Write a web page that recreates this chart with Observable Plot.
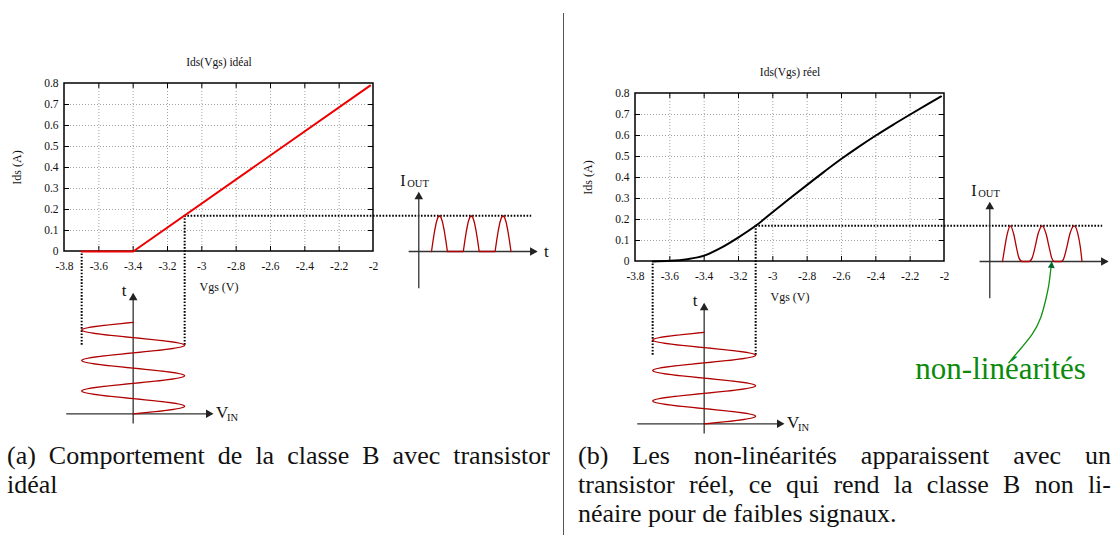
<!DOCTYPE html>
<html><head><meta charset="utf-8">
<script src="https://cdn.jsdelivr.net/npm/d3@7"></script>
<script src="https://cdn.jsdelivr.net/npm/@observablehq/plot@0.6"></script>
<style>
html,body{margin:0;padding:0;background:#fff;overflow:hidden;width:1113px;height:535px;}
#root{position:relative;width:1113px;height:535px;overflow:hidden;}
.panel{position:absolute;width:560px;height:440px;}
.panel svg{position:absolute;left:0;top:0;overflow:visible;background:transparent;}
.cap{position:absolute;font-size:26px;color:#111;}
.line{height:29px;line-height:29px;white-space:nowrap;}
.just{text-align:justify;text-align-last:justify;}
#sep{position:absolute;left:563px;top:13px;width:1px;height:522px;background:#555;}
</style></head><body><div id="root"><div id="sep"></div></div>
<script>
// ---------- data ----------
const vgsTicks = [-3.8,-3.6,-3.4,-3.2,-3,-2.8,-2.6,-2.4,-2.2,-2];
const idsTicks = [0,0.1,0.2,0.3,0.4,0.5,0.6,0.7,0.8];
const idealVgs = [-3.7,-3.4,-2.02];
const idealIds = [0,0,0.79];
const realVgs = [-3.7,-3.6,-3.5,-3.4,-3.3,-3.2,-3.1,-3.0,-2.9,-2.8,-2.7,-2.6,-2.5,-2.4,-2.3,-2.2,-2.1,-2.02];
const realIds = [0,0.003,0.011,0.028,0.066,0.115,0.17,0.236,0.301,0.365,0.428,0.489,0.546,0.6,0.651,0.7,0.748,0.786];
// input Vgs(t), t in periods (quarter-period samples)
const inTime = [0,0.25,0.5,0.75,1,1.25,1.5,1.75,2,2.25,2.5,2.75,3];
const inVgs  = [-3.4,-3.1,-3.4,-3.7,-3.4,-3.1,-3.4,-3.7,-3.4,-3.1,-3.4,-3.7,-3.4];
const peakIds = 0.17;
const peakTime = 2.25;
// output current, ideal transistor
const outIdealT = [0,0.05,0.1,0.15,0.2,0.25,0.3,0.35,0.4,0.45,0.5,
                   1,1.05,1.1,1.15,1.2,1.25,1.3,1.35,1.4,1.45,1.5,
                   2,2.05,2.1,2.15,2.2,2.25,2.3,2.35,2.4,2.45,2.5];
const outIdealI = [0,0.053,0.1,0.138,0.162,0.17,0.162,0.138,0.1,0.053,0,
                   0,0.053,0.1,0.138,0.162,0.17,0.162,0.138,0.1,0.053,0,
                   0,0.053,0.1,0.138,0.162,0.17,0.162,0.138,0.1,0.053,0];
// output current, real transistor
const outRealT = [0,0.07,0.15,0.25,0.35,0.44,0.52,0.62,0.83,0.93,1.02,1.12,1.25,1.37,1.47,1.55,1.63,1.85,1.93,2.02,2.12,2.25,2.37,2.45,2.5];
const outRealI = [0,0.066,0.132,0.17,0.132,0.066,0.016,0,0,0.016,0.066,0.132,0.17,0.132,0.066,0.016,0,0,0.016,0.066,0.132,0.17,0.132,0.066,0];
// annotation path (output-time, current units)
const noteT = [0.2,0.51,0.93,1.2,1.35,1.46,1.54];
const noteI = [-0.482,-0.426,-0.347,-0.268,-0.188,-0.108,-0.004];
const noteText = "non-linéarités";
const capA = ["(a) Comportement de la classe B avec transistor", "idéal"];
const capB = ["(b) Les non-linéarités apparaissent avec un", "transistor réel, ce qui rend la classe B non li-", "néaire pour de faibles signaux."];

// ---------- fonts ----------
function hasFont(f) {
  const c = document.createElement("canvas").getContext("2d");
  const s = "abcdefghijklmnopqrstuvwxyzABCDEFGHIJ0123456789";
  c.font = "40px monospace"; const w1 = c.measureText(s).width;
  c.font = `40px "${f}", monospace`; const w2 = c.measureText(s).width;
  return Math.abs(w1 - w2) > 0.5;
}
const serifName = ["Liberation Serif", "Times New Roman", "Tinos", "DejaVu Serif", "Noto Serif"].find(hasFont);
const FONT = serifName ? `"${serifName}", serif` : "serif";

// ---------- layout ----------
const W = 560, H = 440;
const X = {type:"linear", domain:[-3.8,-2], range:[64,373]};
const Y = {type:"linear", domain:[0,0.8], range:[251,83]};
const TIN = {type:"linear", domain:[0,3], range:[413.3,321.8]};
const TOUT = {type:"linear", domain:[0,1], range:[431,462.8]};
const xs = Plot.scale({x: X}), ys = Plot.scale({y: Y});
const tis = Plot.scale({y: TIN}), tos = Plot.scale({x: TOUT});
const tkY = ys.invert(251 - 5), tkX = xs.invert(64 + 5) - (-3.8);
const base = {width: W, height: H, margin: 0, style: {fontFamily: FONT, overflow: "visible", background: "transparent", color: "#111"}};
const dotted = {stroke: "#000", strokeWidth: 2, strokeDasharray: "1.6,1.6"};
const axisSt = {stroke: "#333", strokeWidth: 1.3};
const head = {symbol: "triangle", r: 3.2, fill: "#222", stroke: "none"};
const SIG = "#b00000";

const root = document.getElementById("root");

function panel(left, top, cfg) {
  const div = document.createElement("div");
  div.className = "panel"; div.style.left = left + "px"; div.style.top = top + "px";
  root.appendChild(div);
  const curve = cfg.v.map((v, i) => ({v, i: cfg.i[i]}));
  const gx = vgsTicks.slice(1, -1), gy = idsTicks.slice(1, -1);
  const txt = {fill: "#111", fontFamily: FONT};

  const main = Plot.plot({...base, x: {...X, axis: null}, y: {...Y, axis: null}, marks: [
    Plot.ruleX(gx, {x: d => d, y1: 0, y2: 0.8, stroke: "#999", strokeDasharray: "1,2", strokeWidth: 0.9}),
    Plot.ruleY(gy, {y: d => d, x1: -3.8, x2: -2, stroke: "#999", strokeDasharray: "1,2", strokeWidth: 0.9}),
    Plot.ruleX(gx, {x: d => d, y1: 0, y2: tkY, stroke: "#000"}),
    Plot.ruleX(gx, {x: d => d, y1: 0.8 - tkY, y2: 0.8, stroke: "#000"}),
    Plot.ruleY(gy, {y: d => d, x1: -3.8, x2: -3.8 + tkX, stroke: "#000"}),
    Plot.ruleY(gy, {y: d => d, x1: -2 - tkX, x2: -2, stroke: "#000"}),
    Plot.rect([0], {x1: -3.8, x2: -2, y1: 0, y2: 0.8, fill: "none", stroke: "#000", strokeWidth: 1.5}),
    Plot.line(curve, {x: "v", y: "i", stroke: cfg.color, strokeWidth: 2, curve: cfg.curve}),
    Plot.text(vgsTicks, {x: d => d, y: 0, dy: 15, text: d => String(d), fontSize: 11.5, ...txt}),
    Plot.text(idsTicks, {x: -3.8, y: d => d, dx: -6, textAnchor: "end", text: d => String(d), fontSize: 11.5, ...txt}),
    Plot.text([cfg.title], {x: -2.9, y: 0.8, dy: -21, text: d => d, fontSize: 11.5, ...txt}),
    Plot.text(["Vgs (V)"], {x: -2.9, y: 0, dy: 36, text: d => d, fontSize: 12, ...txt}),
    Plot.text(["Ids (A)"], {x: -3.8, y: 0.4, dx: -47, rotate: -90, text: d => d, fontSize: 12, ...txt})
  ]});

  const sine = inTime.map((t, k) => ({t, v: inVgs[k]}));
  const input = Plot.plot({...base, x: {...X, axis: null}, y: {...TIN, axis: null}, marks: [
    Plot.ruleX([-3.7, -3.1], {x: d => d, y1: peakTime, y2: d => tis.invert(ys.apply(d === -3.1 ? peakIds : 0)), ...dotted}),
    Plot.link([0], {x1: -3.79, x2: -2.94, y1: 0, y2: 0, ...axisSt}),
    Plot.link([0], {x1: -3.4, x2: -3.4, y1: -0.32, y2: 3.93, ...axisSt}),
    Plot.dot([0], {x: -2.935, y: 0, rotate: 90, dx: -4.5, ...head}),
    Plot.dot([0], {x: -3.4, y: 3.95, dy: 4.5, ...head}),
    Plot.line(sine, {x: "v", y: "t", stroke: SIG, strokeWidth: 1.3, curve: "natural"}),
    Plot.text(["t"], {x: -3.4, y: 3.95, dx: -9, dy: -3, text: d => d, fontSize: 17, ...txt}),
    Plot.text(["V"], {x: -2.935, y: 0, dx: 3, dy: -1, textAnchor: "start", text: d => d, fontSize: 17, ...txt}),
    Plot.text(["IN"], {x: -2.935, y: 0, dx: 14, dy: 4, textAnchor: "start", text: d => d, fontSize: 10.5, ...txt})
  ]});

  const pulses = cfg.ot.map((t, k) => ({t, i: cfg.oi[k]}));
  const outMarks = [
    Plot.ruleY([peakIds], {y: d => d, x1: tos.invert(xs.apply(-3.1)), x2: 3.15, ...dotted}),
    Plot.link([0], {x1: -0.72, x2: 3.3, y1: 0, y2: 0, ...axisSt}),
    Plot.link([0], {x1: -0.4, x2: -0.4, y1: -0.175, y2: 0.275, ...axisSt}),
    Plot.dot([0], {x: 3.32, y: 0, rotate: 90, dx: -4.5, ...head}),
    Plot.dot([0], {x: -0.4, y: 0.282, dy: 4.5, ...head}),
    Plot.line(pulses, {x: "t", y: "i", stroke: SIG, strokeWidth: 1.3, curve: cfg.ocurve}),
    Plot.text(["I"], {x: -0.4, y: 0.282, dx: -18.5, dy: -11, textAnchor: "start", text: d => d, fontSize: 16, ...txt}),
    Plot.text(["OUT"], {x: -0.4, y: 0.282, dx: -11.5, dy: -9, textAnchor: "start", text: d => d, fontSize: 10.5, ...txt})
  ];
  if (cfg.tLabel) {
    outMarks.push(Plot.text(["t"], {x: 3.32, y: 0, dx: 7, textAnchor: "start", text: d => d, fontSize: 17, ...txt}));
  }
  if (cfg.note) {
    const path = noteT.map((t, k) => ({t, i: noteI[k]}));
    outMarks.push(
      Plot.line(path, {x: "t", y: "i", stroke: "#129112", strokeWidth: 1.3, curve: "natural"}),
      Plot.dot([0], {x: noteT[noteT.length - 1], y: noteI[noteI.length - 1], dy: 3.5, rotate: 6, symbol: "triangle", r: 2.6, fill: "#063", stroke: "none"}),
      Plot.text([noteText], {x: -0.06, y: -0.512, text: d => d, fontSize: 31, fill: "#0a8a0a", fontFamily: FONT})
    );
  }
  const output = Plot.plot({...base, x: {...TOUT, axis: null}, y: {...Y, axis: null}, marks: outMarks});

  div.appendChild(input);
  div.appendChild(output);
  div.appendChild(main);
}

panel(0, 0, {v: idealVgs, i: idealIds, color: "#ee0000", curve: "linear", title: "Ids(Vgs) idéal", ot: outIdealT, oi: outIdealI, ocurve: "linear", note: false, tLabel: true});
panel(571, 9.5, {v: realVgs, i: realIds, color: "#000", curve: "monotone-x", title: "Ids(Vgs) réel", ot: outRealT, oi: outRealI, ocurve: "monotone-x", note: true, tLabel: false});

// ---------- captions ----------
function caption(lines, left, width, justified) {
  const c = document.createElement("div");
  c.className = "cap"; c.style.left = left + "px"; c.style.top = "441px"; c.style.width = width + "px";
  c.style.fontFamily = FONT;
  lines.forEach((t, k) => {
    const l = document.createElement("div");
    l.className = "line" + (k < justified ? " just" : "");
    l.textContent = t; c.appendChild(l);
  });
  root.appendChild(c);
}
caption(capA, 7, 543, 1);
caption(capB, 578, 533, 2);
</script></body></html>
